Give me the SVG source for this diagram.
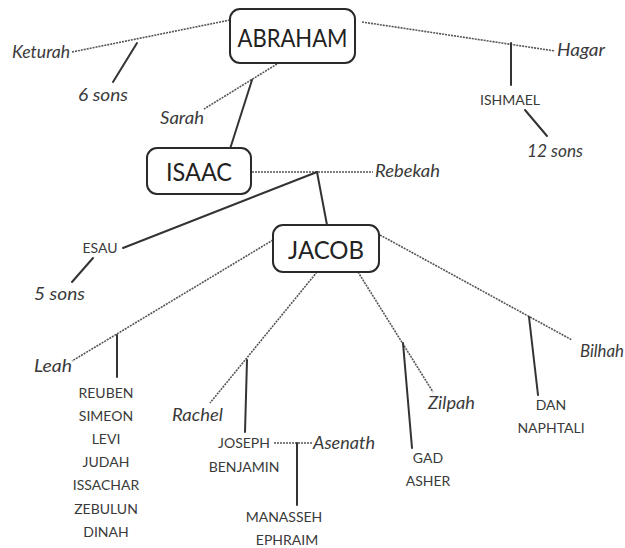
<svg xmlns="http://www.w3.org/2000/svg" width="625" height="548" viewBox="0 0 625 548">
<style>
text{font-family:Lato,"Liberation Sans",sans-serif;fill:#3a3a3a}
.box{fill:#fff;stroke:#2a2a2a;stroke-width:2}
.big{font-size:25px;text-anchor:middle;fill:#222}
.nm{font-size:14px;text-anchor:middle}
.sp{font-size:17px;font-style:italic}
.sol{stroke:#333;stroke-width:2;fill:none;stroke-linecap:round}
.dot{stroke:#555;stroke-width:1.6;stroke-dasharray:2 1;fill:none}
</style>
<rect width="625" height="548" fill="#fff"/>
<g id="connectors">
<line class="dot" x1="72" y1="52" x2="230" y2="20"/>
<line class="sol" x1="137" y1="43" x2="113" y2="82"/>
<line class="dot" x1="277" y1="64" x2="204" y2="109"/>
<line class="sol" x1="252" y1="80" x2="230" y2="149"/>
<line class="dot" x1="362" y1="22" x2="555" y2="51"/>
<line class="sol" x1="511" y1="43" x2="511" y2="85"/>
<line class="sol" x1="525" y1="110" x2="547" y2="136"/>
<line class="dot" x1="252" y1="172" x2="373" y2="172"/>
<line class="sol" x1="317" y1="172" x2="123" y2="248"/>
<line class="sol" x1="317" y1="172" x2="327" y2="225"/>
<line class="sol" x1="93" y1="258" x2="72" y2="282"/>
<line class="dot" x1="273" y1="240" x2="72" y2="361"/>
<line class="sol" x1="117" y1="335" x2="117" y2="377"/>
<line class="dot" x1="317" y1="272" x2="210" y2="403"/>
<line class="sol" x1="247" y1="360" x2="245" y2="432"/>
<line class="dot" x1="274" y1="443" x2="312" y2="443"/>
<line class="sol" x1="297" y1="443" x2="297" y2="505"/>
<line class="dot" x1="358" y1="272" x2="433" y2="392"/>
<line class="sol" x1="403" y1="343" x2="412" y2="448"/>
<line class="dot" x1="380" y1="235" x2="572" y2="340"/>
<line class="sol" x1="529" y1="317" x2="538" y2="395"/>
</g>
<g id="abraham"><rect class="box" x="230" y="9" width="125" height="54" rx="10"/><text class="big" x="292.5" y="47" textLength="110" lengthAdjust="spacingAndGlyphs">ABRAHAM</text></g>
<g id="isaac"><rect class="box" x="147" y="148" width="104" height="46" rx="10"/><text class="big" x="199" y="181" textLength="66" lengthAdjust="spacingAndGlyphs">ISAAC</text></g>
<g id="jacob"><rect class="box" x="273" y="225" width="106" height="47" rx="10"/><text class="big" x="326" y="259" textLength="76" lengthAdjust="spacingAndGlyphs">JACOB</text></g>
<g id="keturah"><text class="sp" x="12" y="58" textLength="58" lengthAdjust="spacingAndGlyphs">Keturah</text></g>
<g id="six-sons"><text class="sp" x="78" y="101" textLength="50" lengthAdjust="spacingAndGlyphs">6 sons</text></g>
<g id="sarah"><text class="sp" x="160" y="124" textLength="44" lengthAdjust="spacingAndGlyphs">Sarah</text></g>
<g id="hagar"><text class="sp" x="557" y="56" textLength="48" lengthAdjust="spacingAndGlyphs">Hagar</text></g>
<g id="ishmael"><text class="nm" x="510" y="105">ISHMAEL</text></g>
<g id="twelve-sons"><text class="sp" x="527" y="157" textLength="56" lengthAdjust="spacingAndGlyphs">12 sons</text></g>
<g id="rebekah"><text class="sp" x="375" y="177" textLength="65" lengthAdjust="spacingAndGlyphs">Rebekah</text></g>
<g id="esau"><text class="nm" x="100" y="253">ESAU</text></g>
<g id="five-sons"><text class="sp" x="34" y="300" textLength="51" lengthAdjust="spacingAndGlyphs">5 sons</text></g>
<g id="leah"><text class="sp" x="34" y="372" textLength="38" lengthAdjust="spacingAndGlyphs">Leah</text></g>
<g id="leah-sons">
<text class="nm" x="106" y="398">REUBEN</text>
<text class="nm" x="106" y="421">SIMEON</text>
<text class="nm" x="106" y="444">LEVI</text>
<text class="nm" x="106" y="467">JUDAH</text>
<text class="nm" x="106" y="490">ISSACHAR</text>
<text class="nm" x="106" y="514">ZEBULUN</text>
<text class="nm" x="106" y="537">DINAH</text>
</g>
<g id="rachel"><text class="sp" x="172" y="421" textLength="51" lengthAdjust="spacingAndGlyphs">Rachel</text></g>
<g id="rachel-sons">
<text class="nm" x="244" y="448">JOSEPH</text>
<text class="nm" x="244" y="472">BENJAMIN</text>
</g>
<g id="asenath"><text class="sp" x="313" y="449" textLength="62" lengthAdjust="spacingAndGlyphs">Asenath</text></g>
<g id="joseph-sons">
<text class="nm" x="284" y="522">MANASSEH</text>
<text class="nm" x="287" y="545">EPHRAIM</text>
</g>
<g id="zilpah"><text class="sp" x="428" y="409" textLength="47" lengthAdjust="spacingAndGlyphs">Zilpah</text></g>
<g id="zilpah-sons">
<text class="nm" x="428" y="463">GAD</text>
<text class="nm" x="428" y="486">ASHER</text>
</g>
<g id="bilhah"><text class="sp" x="580" y="357" textLength="44" lengthAdjust="spacingAndGlyphs">Bilhah</text></g>
<g id="bilhah-sons">
<text class="nm" x="551" y="410">DAN</text>
<text class="nm" x="551" y="433">NAPHTALI</text>
</g>
</svg>
